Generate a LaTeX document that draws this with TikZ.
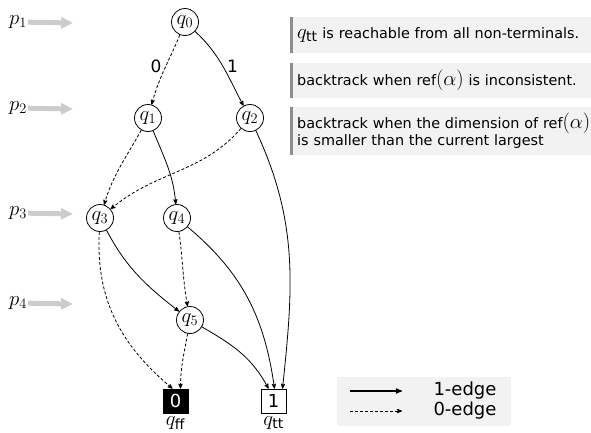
\documentclass[tikz,border=0pt]{standalone}
\usepackage{amsmath}
\usepackage[no-math]{fontspec}
\setmainfont{DejaVu Sans}
\usepackage{tikz}
\usetikzlibrary{arrows, arrows.meta}

\newcommand{\bigmath}[1]{{\fontsize{20}{17}\selectfont$#1$}}

\tikzstyle{state} = [circle, draw, line width=0.8pt, inner sep=0.5pt, minimum size=27pt, font=\fontsize{20}{24}\selectfont]
\tikzstyle{terminal} = [draw, line width=0.8pt, minimum width=25pt, minimum height=24pt, inner sep=0pt, font=\fontsize{18}{22}\selectfont]
\tikzstyle{level} = [inner sep=1pt, font=\fontsize{20}{24}\selectfont]
\tikzstyle{pointer} = [-{Triangle[length=12pt, width=11pt]}, line width=5pt, gray!40]
\tikzstyle{one} = [->, >=stealth', line width=0.8pt]
\tikzstyle{zero} = [->, >=stealth', line width=0.8pt, dash pattern=on 3pt off 2pt]
\tikzstyle{edgelabel} = [inner sep=2pt, font=\fontsize{17}{20}\selectfont]
\tikzstyle{note} = [fill=gray!10, anchor=north west, inner xsep=7pt, inner ysep=0pt, text width=300pt, align=left, font=\fontsize{14.4}{17}\selectfont]
\tikzstyle{notebar} = [line width=3pt, black!45]

\begin{document}
\begin{tikzpicture}[x=1pt, y=1pt]
    \useasboundingbox (0,0) rectangle (591,-432);

    % levels
    \node[level] (p1) at (18,-22) {$p_1$};
    \node[level] (p2) at (18,-108) {$p_2$};
    \node[level] (p3) at (18,-213) {$p_3$};
    \node[level] (p4) at (18,-303) {$p_4$};
    \coordinate (a1) at (73,-23);
    \coordinate (a2) at (73,-109);
    \coordinate (a3) at (73,-214);
    \coordinate (a4) at (73,-304);
    \draw[pointer] (p1) -- (a1);
    \draw[pointer] (p2) -- (a2);
    \draw[pointer] (p3) -- (a3);
    \draw[pointer] (p4) -- (a4);

    % diagram
    \node[state] (q0) at (185,-22) {$q_0$};
    \node[state] (q1) at (148,-118) {$q_1$};
    \node[state] (q2) at (250,-118) {$q_2$};
    \node[state] (q3) at (100,-218) {$q_3$};
    \node[state] (q4) at (177,-218) {$q_4$};
    \node[state] (q5) at (190,-320) {$q_5$};
    \node[terminal, fill=black, text=white] (ff) at (175.5,-401) {0};
    \node[terminal] (tt) at (273.5,-401) {1};
    \node[level] (ffname) at ([yshift=-10pt]ff.south) {$q_{\text{ff}}$};
    \node[level] (ttname) at ([yshift=-10pt]tt.south) {$q_{\text{tt}}$};

    \draw[zero] (q0) to[out=248, in=75] node[edgelabel, pos=0.45, left, xshift=-2pt] {0} (q1);
    \draw[one] (q0) to[out=-43, in=118] node[edgelabel, pos=0.5, right, xshift=2pt] {1} (q2);
    \draw[zero] (q1) to[out=241, in=73] (q3);
    \draw[one] (q1) to[out=-68, in=95] (q4);
    \draw[zero] (q2) to[out=229, in=40] (q3);
    \draw[one] (q2) to[out=-65, in=84] ([xshift=9pt]tt.north);
    \draw[zero] (q3) to[out=-93, in=140] ([xshift=-3pt]ff.north);
    \draw[one] (q3) to[out=-62, in=142] (q5);
    \draw[zero] (q4) to[out=-82, in=100] (q5);
    \draw[one] (q4) to[out=-40, in=98] ([xshift=1pt]tt.north);
    \draw[zero] (q5) to[out=-100, in=90] ([xshift=5pt]ff.north);
    \draw[one] (q5) to[out=-30, in=118] ([xshift=-5pt]tt.north);

    % notes
    \node[note, minimum height=36pt] (n1) at (290,-17) {\bigmath{q_{\text{tt}}} is reachable from all non-terminals.};
    \node[note, minimum height=35pt] (n2) at (290,-63) {backtrack when ref\bigmath{(\alpha)} is inconsistent.};
    \node[note, minimum height=48pt] (n3) at (290,-107) {backtrack when the dimension of ref\bigmath{(\alpha)}\\is smaller than the current largest};
    \draw[notebar] ([xshift=1.5pt]n1.north west) -- ([xshift=1.5pt]n1.south west);
    \draw[notebar] ([xshift=1.5pt]n2.north west) -- ([xshift=1.5pt]n2.south west);
    \draw[notebar] ([xshift=1.5pt]n3.north west) -- ([xshift=1.5pt]n3.south west);

    % legend
    \node[fill=gray!10, minimum width=174pt, minimum height=49pt, inner sep=0pt] (legend) at (424,-401.5) {};
    \coordinate (l1s) at (350,-391);
    \coordinate (l1e) at (402,-391);
    \coordinate (l0s) at (350,-411);
    \coordinate (l0e) at (402,-411);
    \draw[one, line width=1.2pt] (l1s) -- (l1e);
    \draw[zero] (l0s) -- (l0e);
    \node[edgelabel, font=\fontsize{18}{22}\selectfont] (l1) at (465,-391) {1-edge};
    \node[edgelabel, font=\fontsize{18}{22}\selectfont] (l0) at (465,-411) {0-edge};
\end{tikzpicture}
\end{document}
